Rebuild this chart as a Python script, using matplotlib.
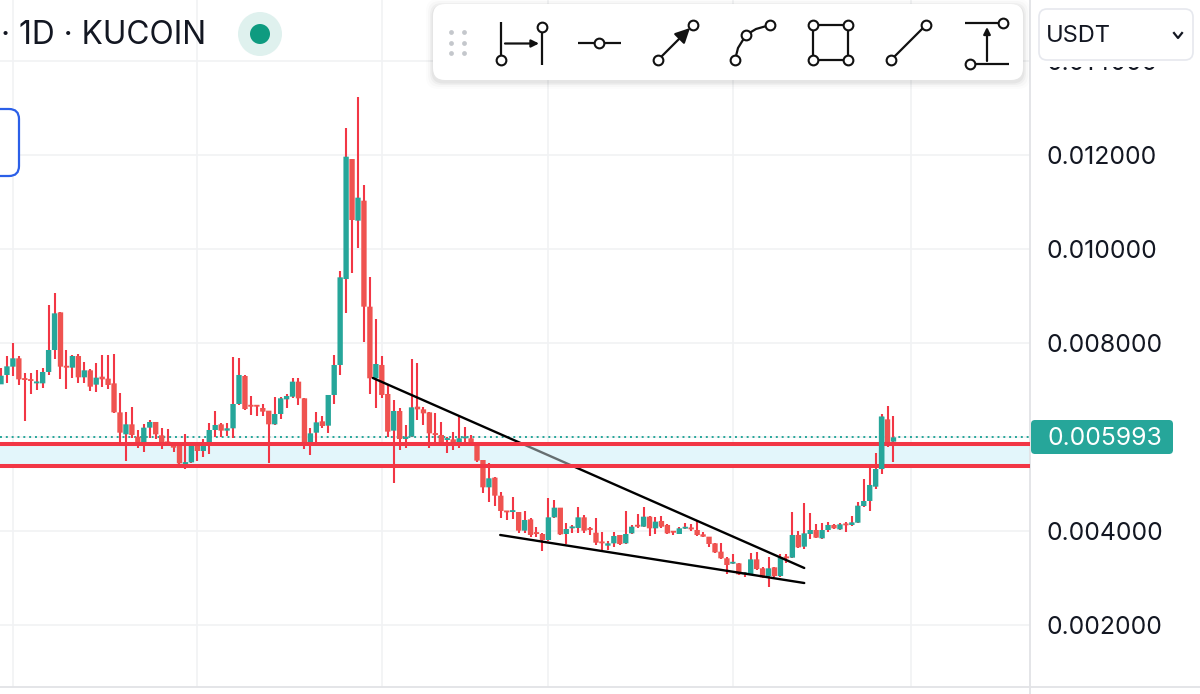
"""KUCOIN daily candles with trendlines, support band and drawing toolbar."""
import numpy as np
import matplotlib
matplotlib.use('Agg')
import matplotlib.pyplot as plt
from matplotlib.patches import FancyBboxPatch, Circle

plt.rcParams['font.family'] = ['Inter', 'DejaVu Sans']

# candle values, millionths of USDT
opens = [7122, 7321, 7498, 7676, 7228, 7214, 7143, 7143, 7385, 7853, 8655, 7498, 7477, 7725, 7271, 7420,
         7115, 7285, 7243, 7143, 6525, 6057, 6270, 6007, 5865, 6199, 6320, 6036, 5886, 5886, 5865, 5425,
         5460, 5879, 5702, 5844, 6149, 6270, 6135, 6185, 6703, 7299, 6682, 6660, 6618, 6561, 6270, 6490,
         6802, 6859, 7179, 6824, 5865, 6092, 6334, 6241, 6895, 7534, 9365, 11921, 10608, 11034, 8776, 7250,
         7534, 6916, 6135, 6554, 5957, 6007, 6646, 6589, 6525, 6078, 6043, 5936, 5950, 5830, 5972, 5972,
         5851, 5510, 4928, 5134, 4750, 4424, 4402, 4402, 4005, 4246, 3962, 3934, 3806, 4289, 4495, 3934,
         4055, 4062, 4289, 4033, 3962, 3756, 3685, 3735, 3913, 3735, 3948, 4111, 4090, 4303, 4055, 4211,
         4126, 3984, 3934, 4048, 4055, 4019, 3927, 3877, 3735, 3558, 3416, 3302, 3309, 3075, 3082, 3394,
         3203, 3039, 3224, 3039, 3437, 3430, 3913, 3664, 3934, 4019, 3842, 4019, 4126, 4033, 4140, 4126,
         4175, 4530, 4637, 4942, 5318, 6376, 5901]
highs = [7463, 7725, 8009, 7725, 7370, 7356, 7427, 7463, 8805, 9074, 8655, 7853, 7747, 7768, 7605, 7441,
         7569, 7747, 7747, 7768, 6930, 6525, 6632, 6149, 6277, 6362, 6320, 6199, 6170, 5886, 5865, 6057,
         5886, 5879, 5950, 6291, 6554, 6305, 6305, 7697, 7676, 7321, 6873, 6682, 6703, 6561, 6859, 6859,
         6909, 7250, 7250, 6824, 6185, 6525, 6447, 6895, 7747, 9536, 12575, 11921, 13235, 11368, 9415, 8506,
         7732, 7108, 6788, 6611, 6256, 7654, 7569, 6646, 6540, 6518, 6327, 6007, 6099, 6469, 6220, 6043,
         5851, 5510, 5453, 5155, 4821, 4424, 4729, 4402, 4424, 4268, 4076, 3962, 4708, 4658, 4495, 4175,
         4126, 4502, 4339, 4090, 4268, 3984, 3792, 3984, 3913, 4424, 4126, 4360, 4502, 4317, 4289, 4317,
         4147, 3998, 4076, 4175, 4147, 4232, 3984, 3877, 3735, 3735, 3451, 3508, 3309, 3132, 3522, 3558,
         3224, 3451, 3238, 3508, 3508, 4410, 3998, 4587, 4374, 4147, 4161, 4197, 4140, 4161, 4197, 4317,
         4608, 5105, 5354, 5652, 6490, 6660, 6447]
lows = [7122, 7157, 7299, 7108, 6341, 6916, 7001, 7037, 7321, 7654, 7228, 7015, 7250, 7157, 7143, 6987,
        6966, 7072, 7015, 6518, 5865, 5489, 5972, 5759, 5673, 5972, 5950, 5744, 5815, 5688, 5418, 5318,
        5453, 5489, 5581, 5631, 6007, 5993, 6021, 5972, 6682, 6575, 6469, 6454, 6454, 5453, 6256, 6376,
        6611, 6824, 6682, 5744, 5617, 5879, 6185, 6092, 6696, 7321, 8648, 9500, 10019, 8016, 6916, 6611,
        6824, 6007, 5027, 5723, 5759, 5993, 6362, 6256, 5759, 5830, 5830, 5652, 5723, 5759, 5865, 5830,
        5475, 4814, 4623, 4530, 4268, 4232, 4246, 3962, 3948, 3877, 3863, 3572, 3792, 4268, 3913, 3721,
        3962, 3962, 3948, 3913, 3700, 3593, 3593, 3650, 3700, 3714, 3934, 4055, 4076, 3898, 3934, 4055,
        3934, 3913, 3927, 4033, 3998, 3898, 3863, 3650, 3522, 3394, 3082, 3288, 3061, 3025, 3061, 3167,
        2990, 2812, 3025, 3025, 3309, 3416, 3629, 3607, 3820, 3842, 3827, 3984, 4033, 4019, 3984, 4111,
        4161, 4516, 4431, 4885, 5212, 5794, 5475]
closes = [7306, 7505, 7676, 7228, 7214, 7193, 7164, 7385, 7853, 8634, 7498, 7477, 7725, 7271, 7420, 7072,
          7264, 7228, 7108, 6525, 6092, 6270, 6043, 5815, 6199, 6320, 6057, 5815, 5865, 5773, 5439, 5453,
          5865, 5702, 5844, 6149, 6256, 6135, 6185, 6703, 7321, 6596, 6646, 6646, 6540, 6270, 6490, 6824,
          6873, 7179, 6824, 5865, 6078, 6312, 6234, 6895, 7534, 9401, 11971, 10622, 11098, 8776, 7250, 7555,
          6895, 6114, 6554, 5957, 6007, 6632, 6589, 6504, 6078, 6043, 5865, 5957, 5830, 5972, 5993, 5851,
          5496, 4928, 5120, 4750, 4424, 4395, 4424, 4005, 4232, 3913, 3934, 3806, 4289, 4495, 3927, 4040,
          4076, 4289, 4005, 4019, 3749, 3735, 3735, 3891, 3721, 3934, 4090, 4090, 4303, 4055, 4197, 4090,
          3948, 3962, 4055, 4069, 4033, 3913, 3877, 3721, 3543, 3416, 3274, 3323, 3075, 3096, 3394, 3188,
          3011, 3203, 3039, 3437, 3416, 3913, 3650, 3948, 4019, 3856, 4019, 4126, 4055, 4140, 4119, 4182,
          4537, 4637, 4978, 5318, 6433, 5808, 5993]

# month boundaries, as candle numbers
month_ticks = [2, 33, 64, 92, 123, 153]
price_ticks = [0.002, 0.004, 0.006, 0.008, 0.010, 0.012, 0.014]
last_price = 0.005993
band_top = 0.005857
band_bottom = 0.005382

# trendlines: candle number, price
upper_x = [62.5, 135]
upper_y = [0.007257, 0.003210]
lower_x = [83.9, 135]
lower_y = [0.003913, 0.002890]

GREEN = '#26a69a'
RED = '#ef5350'
WICK = '#f23645'
TEXT = '#131722'
AXIS = '#e2e3e6'

fig = plt.figure(figsize=(12, 6.94), dpi=100, facecolor='white')
ax = fig.add_axes([0, 7 / 694, 1030 / 1200, 687 / 694])

o = np.array(opens) / 1e6
h = np.array(highs) / 1e6
l = np.array(lows) / 1e6
c = np.array(closes) / 1e6
x = np.arange(len(o))
colors = [GREEN if b >= a else RED for a, b in zip(o, c)]

# band and its edges
ax.axhspan(band_bottom, band_top, color='#e3f6fb', lw=0, zorder=1)
ax.axhline(last_price, color=GREEN, lw=1.4, ls=(0, (1, 2)), zorder=1.5)
ax.vlines(x, l, h, color=WICK, lw=1.5, zorder=3)
ax.bar(x, np.maximum(np.abs(c - o), 0.00004), bottom=np.minimum(o, c), width=0.9, color=colors, lw=0, zorder=3.5, snap=False)

ax.plot(upper_x, upper_y, color='black', lw=1.7, zorder=4, solid_capstyle='round')
ax.plot(lower_x, lower_y, color='black', lw=1.7, zorder=4, solid_capstyle='round')
# the band sits over the upper trendline where they cross
ax.fill_between([86, 98], band_bottom, band_top, color='#e3f6fb', alpha=0.45, lw=0, zorder=4.5)
ax.hlines([band_top, band_bottom], -1, 173, color=WICK, lw=2.9, zorder=5)
# candle 148 runs over both edges
ax.bar(x[148], c[148] - o[148], bottom=o[148], width=0.9, color=GREEN, lw=0, zorder=5.5, snap=False)

ax.set_xlim(-1 / 5.95, 1029 / 5.95)
ax.set_ylim(0.006 - 250 * 21.3e-6, 0.006 + 437 * 21.3e-6)
ax.set_xticks(month_ticks)
ax.set_yticks(price_ticks)
# 0.006000 sits behind the last price tag
ax.set_yticklabels(['' if t == 0.006 else f'{t:.6f}' for t in price_ticks])
ax.yaxis.tick_right()
ax.tick_params(axis='y', length=0, pad=12, labelsize=17.8, labelcolor=TEXT)
ax.tick_params(axis='x', length=0, labelbottom=False)
ax.grid(True, color='#f1f2f4', lw=1.2)
ax.set_axisbelow(True)
for side in ['top', 'left']:
    ax.spines[side].set_visible(False)
for side in ['right', 'bottom']:
    ax.spines[side].set_color(AXIS)
    ax.spines[side].set_linewidth(1.3)

# interface chrome on top, in pixels
ui = fig.add_axes([0, 0, 1, 1], zorder=10)
ui.set_xlim(0, 1200)
ui.set_ylim(694, 0)
ui.axis('off')
ui.patch.set_alpha(0)

# axis lines run on past the corner
ui.plot([1030, 1200], [687, 687], color=AXIS, lw=1.3)
ui.plot([1030, 1030], [687, 694], color=AXIS, lw=1.3)

ui.text(1, 35.5, '· 1D · KUCOIN', fontsize=22.8, color=TEXT, va='center', ha='left')
ui.add_patch(Circle((260, 34), 22, color='#dff1ee', lw=0))
ui.add_patch(Circle((260, 34), 10, color='#0e9b80', lw=0))
ui.add_patch(FancyBboxPatch((-20, 109), 39, 67, boxstyle='round,pad=0,rounding_size=10', fc='white', ec='#2b5fe8', lw=1.6))

# hides the top of the 0.014000 label, and the select over it
ui.fill_between([1031, 1200], 0, 67, color='white', lw=0)
ui.add_patch(FancyBboxPatch((1039, 9), 154, 51, boxstyle='round,pad=0,rounding_size=8', fc='white', ec='#e6e8ee', lw=1.2))
ui.text(1046, 35.5, 'USDT', fontsize=17, color=TEXT, va='center', ha='left')
ui.plot([1174, 1178, 1182], [33, 38, 33], color=TEXT, lw=1.6)

# toolbar shadow and panel
for grow, alpha in [(7, 0.012), (5, 0.02), (3, 0.03), (1.5, 0.04)]:
    ui.add_patch(FancyBboxPatch((433 - grow, 4 - grow + 2), 590 + 2 * grow, 76 + 2 * grow,
                                boxstyle='round,pad=0,rounding_size=12', fc='black', ec='none', alpha=alpha))
ui.add_patch(FancyBboxPatch((433, 4), 590, 76, boxstyle='round,pad=0,rounding_size=12', fc='white', ec='none'))

grip_x, grip_y = np.meshgrid([451, 463.5], [32, 43, 53])
ui.scatter(grip_x.ravel(), grip_y.ravel(), s=12, color='#c4c7cc', lw=0)


def seg(xs, ys):
    ui.plot(xs, ys, color='#111111', lw=1.6, solid_capstyle='butt', zorder=3)


def knob(px, py):
    ui.plot(px, py, 'o', ms=7, mfc='white', mec='#111111', mew=1.5, zorder=4)


def arrow(x0, y0, x1, y1, scale):
    ui.annotate('', xy=(x1, y1), xytext=(x0, y0), zorder=3,
                arrowprops=dict(arrowstyle='-|>', color='#111111', lw=1.6, mutation_scale=scale, shrinkA=0, shrinkB=0))


# date range
seg([501, 501], [22, 60])
seg([542, 542], [27, 65])
arrow(505, 43.5, 539, 43.5, 11)
knob(501, 60)
knob(542, 27)
# horizontal ray
seg([578, 621], [43, 43])
knob(599, 43)
# arrow
arrow(658, 60, 690, 28, 22)
knob(658, 60)
knob(693, 25)
# path
seg([735, 738, 746], [60, 48, 35])
seg([746, 756, 770], [35, 29, 25])
knob(735, 60)
knob(746, 35)
knob(770, 25)
# rectangle
seg([813, 848, 848, 813, 813], [25, 25, 60, 60, 25])
for kx, ky in [(813, 25), (848, 25), (813, 60), (848, 60)]:
    knob(kx, ky)
# line
seg([891, 926], [60, 25])
knob(891, 60)
knob(926, 25)
# price range
seg([965, 1001], [23, 23])
seg([970, 1009], [64, 64])
arrow(987, 61, 987, 27, 10)
knob(1003, 23)
knob(970, 64)

# last price tag
ui.add_patch(FancyBboxPatch((1031, 420), 142, 34, boxstyle='round,pad=0,rounding_size=4', fc=GREEN, ec='none'))
ui.text(1104.5, 438, f'{last_price:.6f}', fontsize=17.8, color='white', va='center', ha='center')

fig.savefig('out.png', dpi=100, facecolor='white')
plt.close(fig)
